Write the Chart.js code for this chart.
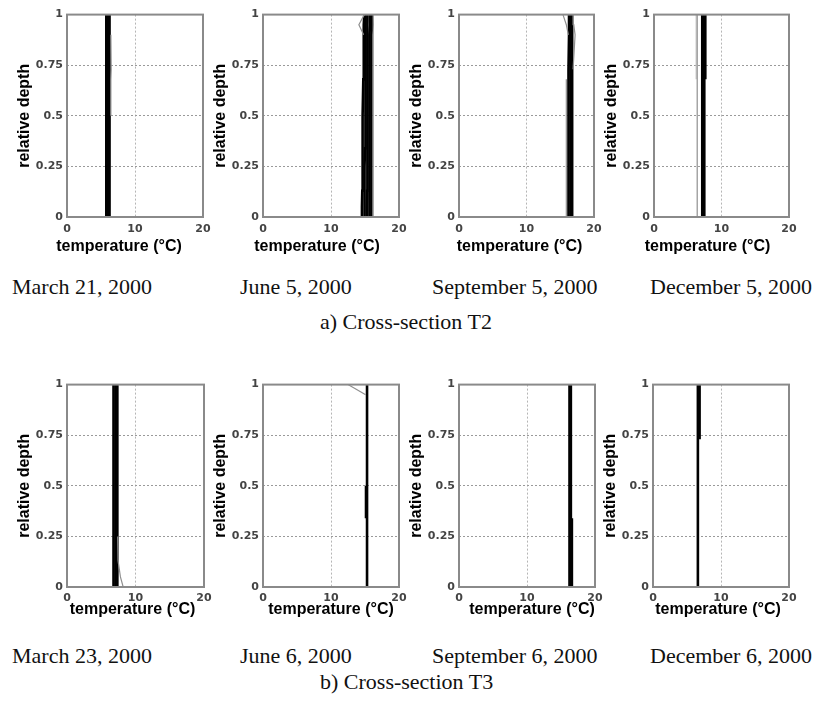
<!DOCTYPE html>
<html>
<head>
<meta charset="utf-8">
<script src="https://cdn.jsdelivr.net/npm/chart.js@4/dist/chart.umd.min.js"></script>
<style>
  html, body { margin: 0; padding: 0; background: #fff; }
  #wrap { position: relative; width: 826px; height: 706px; overflow: hidden; background: #fff; }
  #wrap canvas { position: absolute; }
  .cap { position: absolute; font-family: "Liberation Serif", "DejaVu Serif", serif; font-size: 22px; line-height: 22px; color: #111; white-space: nowrap; }
</style>
</head>
<body>
<div id="wrap"></div>
<script>
// ---------------- DATA ----------------
const depthLevels = [0, 0.05, 0.13, 0.25, 0.34, 0.5, 0.68, 0.73, 0.9, 0.95, 1];
const xTicks = [0, 10, 20];
const xTickLabels = ["0", "10", "20"];
const yTicks = [0, 0.25, 0.5, 0.75, 1];
const yTickLabels = ["0", "0.25", "0.5", "0.75", "1"];

const panelDates = ["March 21, 2000", "June 5, 2000", "September 5, 2000", "December 5, 2000",
                    "March 23, 2000", "June 6, 2000", "September 6, 2000", "December 6, 2000"];
const sectionCaptions = ["a) Cross-section T2", "b) Cross-section T3"];

// Cross-section T2, March 21, 2000
const t2Mar21_black1 = [5.75, 5.75, 5.75, 5.75, 5.75, 5.8, 5.8, 5.8, 5.8, 5.8, 5.8];
const t2Mar21_black2 = [6.0, 6.0, 6.0, 6.0, 6.0, 6.05, 6.05, 6.05, 6.05, 6.0, 6.0];
const t2Mar21_black3 = [6.25, 6.25, 6.2, 6.2, 6.25, 6.3, 6.25, 6.3, 6.3, 6.25, 6.25];
const t2Mar21_gray1  = [null, null, null, null, null, 6.45, 6.45, 6.5, 6.45, null, null];

// Cross-section T2, June 5, 2000
const t2Jun5_black1 = [14.55, 14.55, 14.6, 14.6, 14.65, 14.7, 14.75, 14.8, 14.8, 14.85, 14.9];
const t2Jun5_black2 = [14.9, 14.9, 14.95, 14.95, 15.0, 15.0, 15.05, 15.05, 15.1, 15.1, 15.1];
const t2Jun5_black3 = [15.25, 15.25, 15.3, 15.3, 15.3, 15.3, 15.35, 15.35, 15.4, 15.4, 15.4];
const t2Jun5_black4 = [15.6, 15.6, 15.6, 15.6, 15.65, 15.65, 15.7, 15.7, 15.7, 15.75, 15.7];
const t2Jun5_black5 = [15.9, 15.9, 15.9, 15.9, 15.9, 15.95, 15.95, 16.0, 16.0, 16.05, 16.0];
const t2Jun5_gray1  = [16.2, 16.2, 16.2, 16.2, 16.2, 16.2, 16.2, 16.2, 16.2, 16.2, 16.2];
const t2Jun5_gray2  = [null, null, null, null, null, null, null, null, 14.8, 14.1, 14.9];

// Cross-section T2, September 5, 2000
const t2Sep5_black1 = [16.2, 16.2, 16.2, 16.2, 16.2, 16.25, 16.25, 16.25, 16.3, 16.3, 16.3];
const t2Sep5_black2 = [16.5, 16.5, 16.5, 16.5, 16.5, 16.5, 16.5, 16.55, 16.55, 16.55, 16.5];
const t2Sep5_black3 = [16.75, 16.75, 16.75, 16.75, 16.75, 16.75, 16.75, 16.8, 16.8, 16.8, 16.75];
const t2Sep5_gray1  = [15.9, 15.9, 15.9, 15.9, 15.9, 15.9, 15.9, null, null, null, null];
const t2Sep5_gray2  = [null, null, null, null, null, null, null, null, 16.2, 15.9, 15.4];
const t2Sep5_gray3  = [null, null, null, null, null, null, null, 16.9, 17.2, 17.0, 16.9];

// Cross-section T2, December 5, 2000
const t2Dec5_gray1  = [6.4, 6.4, 6.4, 6.4, 6.4, 6.4, 6.4, 6.4, 6.4, 6.4, 6.4];
const t2Dec5_gray2  = [null, null, null, null, null, null, 6.25, 6.25, 6.25, 6.25, 6.25];
const t2Dec5_black1 = [7.15, 7.15, 7.15, 7.15, 7.15, 7.15, 7.15, 7.15, 7.15, 7.15, 7.15];
const t2Dec5_black2 = [7.45, 7.45, 7.45, 7.45, 7.45, 7.45, 7.45, 7.45, 7.45, 7.45, 7.45];
const t2Dec5_black3 = [null, null, null, null, null, null, 7.6, 7.6, 7.6, 7.6, 7.6];

// Cross-section T3, March 23, 2000
const t3Mar23_black1 = [6.75, 6.75, 6.75, 6.75, 6.75, 6.8, 6.8, 6.8, 6.8, 6.85, 6.85];
const t3Mar23_black2 = [7.05, 7.05, 7.05, 7.05, 7.05, 7.1, 7.1, 7.1, 7.1, 7.1, 7.1];
const t3Mar23_black3 = [7.35, 7.35, 7.35, 7.4, 7.4, 7.4, 7.35, 7.35, 7.3, 7.3, 7.3];
const t3Mar23_gray1  = [8.2, 7.8, 7.45, 7.4, null, null, null, null, null, null, null];

// Cross-section T3, June 6, 2000
const t3Jun6_black1 = [15.3, 15.3, 15.3, 15.3, 15.3, 15.3, 15.3, 15.3, 15.3, 15.3, 15.3];
const t3Jun6_black2 = [null, null, null, null, 15.15, 15.15, null, null, null, null, null];
const t3Jun6_gray1  = [null, null, null, null, null, null, null, null, null, 15.1, 12.5];

// Cross-section T3, September 6, 2000
const t3Sep6_black1 = [16.25, 16.25, 16.25, 16.25, 16.25, 16.25, 16.25, 16.25, 16.25, 16.25, 16.25];
const t3Sep6_black2 = [16.45, 16.45, 16.45, 16.45, 16.45, 16.45, 16.45, 16.45, 16.45, 16.45, 16.45];
const t3Sep6_black3 = [16.6, 16.6, 16.6, 16.6, 16.6, null, null, null, null, null, null];

// Cross-section T3, December 6, 2000
const t3Dec6_black1 = [6.6, 6.6, 6.6, 6.6, 6.6, 6.6, 6.6, 6.6, 6.6, 6.6, 6.6];
const t3Dec6_black2 = [null, null, null, null, null, null, null, 6.85, 6.85, 6.85, 6.85];

// -------------- panel composition (which series in which panel) --------------
const panelSeries = [
  [["gray", t2Mar21_gray1], ["black", t2Mar21_black1], ["black", t2Mar21_black2], ["black", t2Mar21_black3]],
  [["gray", t2Jun5_gray1], ["gray", t2Jun5_gray2], ["black", t2Jun5_black1], ["black", t2Jun5_black2], ["black", t2Jun5_black3], ["black", t2Jun5_black4], ["black", t2Jun5_black5]],
  [["gray", t2Sep5_gray1], ["gray", t2Sep5_gray2], ["gray", t2Sep5_gray3], ["black", t2Sep5_black1], ["black", t2Sep5_black2], ["black", t2Sep5_black3]],
  [["gray", t2Dec5_gray1], ["lightgray", t2Dec5_gray2], ["black", t2Dec5_black1], ["black", t2Dec5_black2], ["black", t2Dec5_black3]],
  [["gray", t3Mar23_gray1], ["black", t3Mar23_black1], ["black", t3Mar23_black2], ["black", t3Mar23_black3]],
  [["gray", t3Jun6_gray1], ["black", t3Jun6_black1], ["black", t3Jun6_black2]],
  [["black", t3Sep6_black1], ["black", t3Sep6_black2], ["black", t3Sep6_black3]],
  [["black", t3Dec6_black1], ["black", t3Dec6_black2]]
];

// -------------- layout (positions/styles only) --------------
const layout = [
  {l: 67,  r: 203, t: 14,  b: 217, tdx: -16, tdy: 30, tickPad: 6},
  {l: 263, r: 399, t: 14,  b: 217, tdx: -14, tdy: 30, tickPad: 6},
  {l: 459, r: 594, t: 14,  b: 217, tdx: -7,  tdy: 30, tickPad: 6},
  {l: 654, r: 789, t: 14,  b: 217, tdx: -14, tdy: 30, tickPad: 6},
  {l: 67,  r: 204, t: 384, b: 587, tdx: -3,  tdy: 23, tickPad: 5},
  {l: 263, r: 399, t: 384, b: 587, tdx: 0,   tdy: 23, tickPad: 5},
  {l: 459, r: 595, t: 384, b: 587, tdx: 5,   tdy: 23, tickPad: 5},
  {l: 653, r: 789, t: 384, b: 587, tdx: -3,  tdy: 23, tickPad: 5}
];
const dateCapPos = [
  {x: 12, y: 276}, {x: 240, y: 276}, {x: 432, y: 276}, {x: 650, y: 276},
  {x: 12, y: 645}, {x: 240, y: 645}, {x: 432, y: 645}, {x: 650, y: 645}
];
const sectionCapPos = [{x: 320, y: 311}, {x: 320, y: 671}];

const styleOf = {
  black: {color: '#000000', width: 2.6},
  gray: {color: '#8f8f8f', width: 1.2},
  lightgray: {color: '#c4c4c4', width: 1.2}
};

const LEFT_SPACE = 60, RIGHT_SPACE = 15, TOP_SPACE = 10, BOTTOM_SPACE = 50;

const framePlugin = {
  id: 'frame',
  afterDatasetsDraw(chart) {
    const {ctx, chartArea: a} = chart;
    ctx.save();
    ctx.strokeStyle = '#8a8a8a';
    ctx.lineWidth = 2;
    ctx.strokeRect(a.left, a.top, a.right - a.left, a.bottom - a.top);
    ctx.restore();
  }
};
const xTitlePlugin = {
  id: 'xTitle',
  afterDraw(chart, args, opts) {
    const {ctx, chartArea: a} = chart;
    ctx.save();
    ctx.font = 'bold 16px "Liberation Sans", Arial, sans-serif';
    ctx.fillStyle = '#000';
    ctx.textAlign = 'center';
    ctx.textBaseline = 'middle';
    ctx.fillText(opts.text, (a.left + a.right) / 2 + opts.dx, a.bottom + opts.dy);
    ctx.restore();
  }
};

const wrap = document.getElementById('wrap');
const tickFont = {family: '"DejaVu Sans", sans-serif', size: 11, weight: 'bold'};
const labelFor = (vals, labels) => v => {
  const k = vals.findIndex(t => Math.abs(t - v) < 1e-9);
  return k >= 0 ? labels[k] : '';
};

panelSeries.forEach((series, i) => {
  const L = layout[i];
  const W = (L.r - L.l) + LEFT_SPACE + RIGHT_SPACE;
  const H = (L.b - L.t) + TOP_SPACE + BOTTOM_SPACE;
  const cv = document.createElement('canvas');
  cv.width = W; cv.height = H;
  cv.style.width = W + 'px'; cv.style.height = H + 'px';
  cv.style.left = (L.l - LEFT_SPACE) + 'px';
  cv.style.top = (L.t - TOP_SPACE) + 'px';
  wrap.appendChild(cv);

  const datasets = series.map(([kind, vals]) => ({
    data: depthLevels.map((d, k) => vals[k] == null ? null : {x: vals[k], y: d}).filter(p => p),
    showLine: true,
    borderColor: styleOf[kind].color,
    borderWidth: styleOf[kind].width,
    pointRadius: 0,
    tension: 0,
    fill: false
  }));

  new Chart(cv, {
    type: 'scatter',
    data: {datasets},
    options: {
      responsive: false,
      animation: false,
      events: [],
      devicePixelRatio: 1,
      layout: {padding: {left: 0, right: RIGHT_SPACE, top: TOP_SPACE, bottom: 0}},
      plugins: {
        legend: {display: false},
        tooltip: {enabled: false},
        xTitle: {text: 'temperature (°C)', dx: L.tdx, dy: L.tdy}
      },
      scales: {
        x: {
          type: 'linear', min: 0, max: 20,
          afterBuildTicks: sc => { sc.ticks = xTicks.map(v => ({value: v})); },
          afterFit: sc => { sc.height = BOTTOM_SPACE; },
          grid: {
            drawTicks: false, lineWidth: 1,
            color: c => (c.tick && c.tick.value > 0 && c.tick.value < 20) ? '#b5b5b5' : 'rgba(0,0,0,0)'
          },
          border: {display: false, dash: [2, 2]},
          ticks: {padding: L.tickPad, color: '#444', font: tickFont, maxRotation: 0, autoSkip: false,
                  callback: labelFor(xTicks, xTickLabels)}
        },
        y: {
          type: 'linear', min: 0, max: 1,
          afterBuildTicks: sc => { sc.ticks = yTicks.map(v => ({value: v})); },
          afterFit: sc => { sc.width = LEFT_SPACE; },
          grid: {
            drawTicks: false, lineWidth: 1,
            color: c => (c.tick && c.tick.value > 0 && c.tick.value < 1) ? '#9a9a9a' : 'rgba(0,0,0,0)'
          },
          border: {display: false, dash: [2, 2]},
          ticks: {padding: 4, color: '#444', font: tickFont, autoSkip: false,
                  callback: labelFor(yTicks, yTickLabels)},
          title: {
            display: true, text: 'relative depth', color: '#000',
            font: {family: '"Liberation Sans", Arial, sans-serif', size: 16, weight: 'bold'},
            padding: {top: 8, bottom: 0}
          }
        }
      }
    },
    plugins: [framePlugin, xTitlePlugin]
  });
});

panelDates.forEach((txt, i) => {
  const d = document.createElement('div');
  d.className = 'cap';
  d.textContent = txt;
  d.style.left = dateCapPos[i].x + 'px';
  d.style.top = dateCapPos[i].y + 'px';
  wrap.appendChild(d);
});
sectionCaptions.forEach((txt, i) => {
  const d = document.createElement('div');
  d.className = 'cap';
  d.textContent = txt;
  d.style.left = sectionCapPos[i].x + 'px';
  d.style.top = sectionCapPos[i].y + 'px';
  wrap.appendChild(d);
});
</script>
</body>
</html>
